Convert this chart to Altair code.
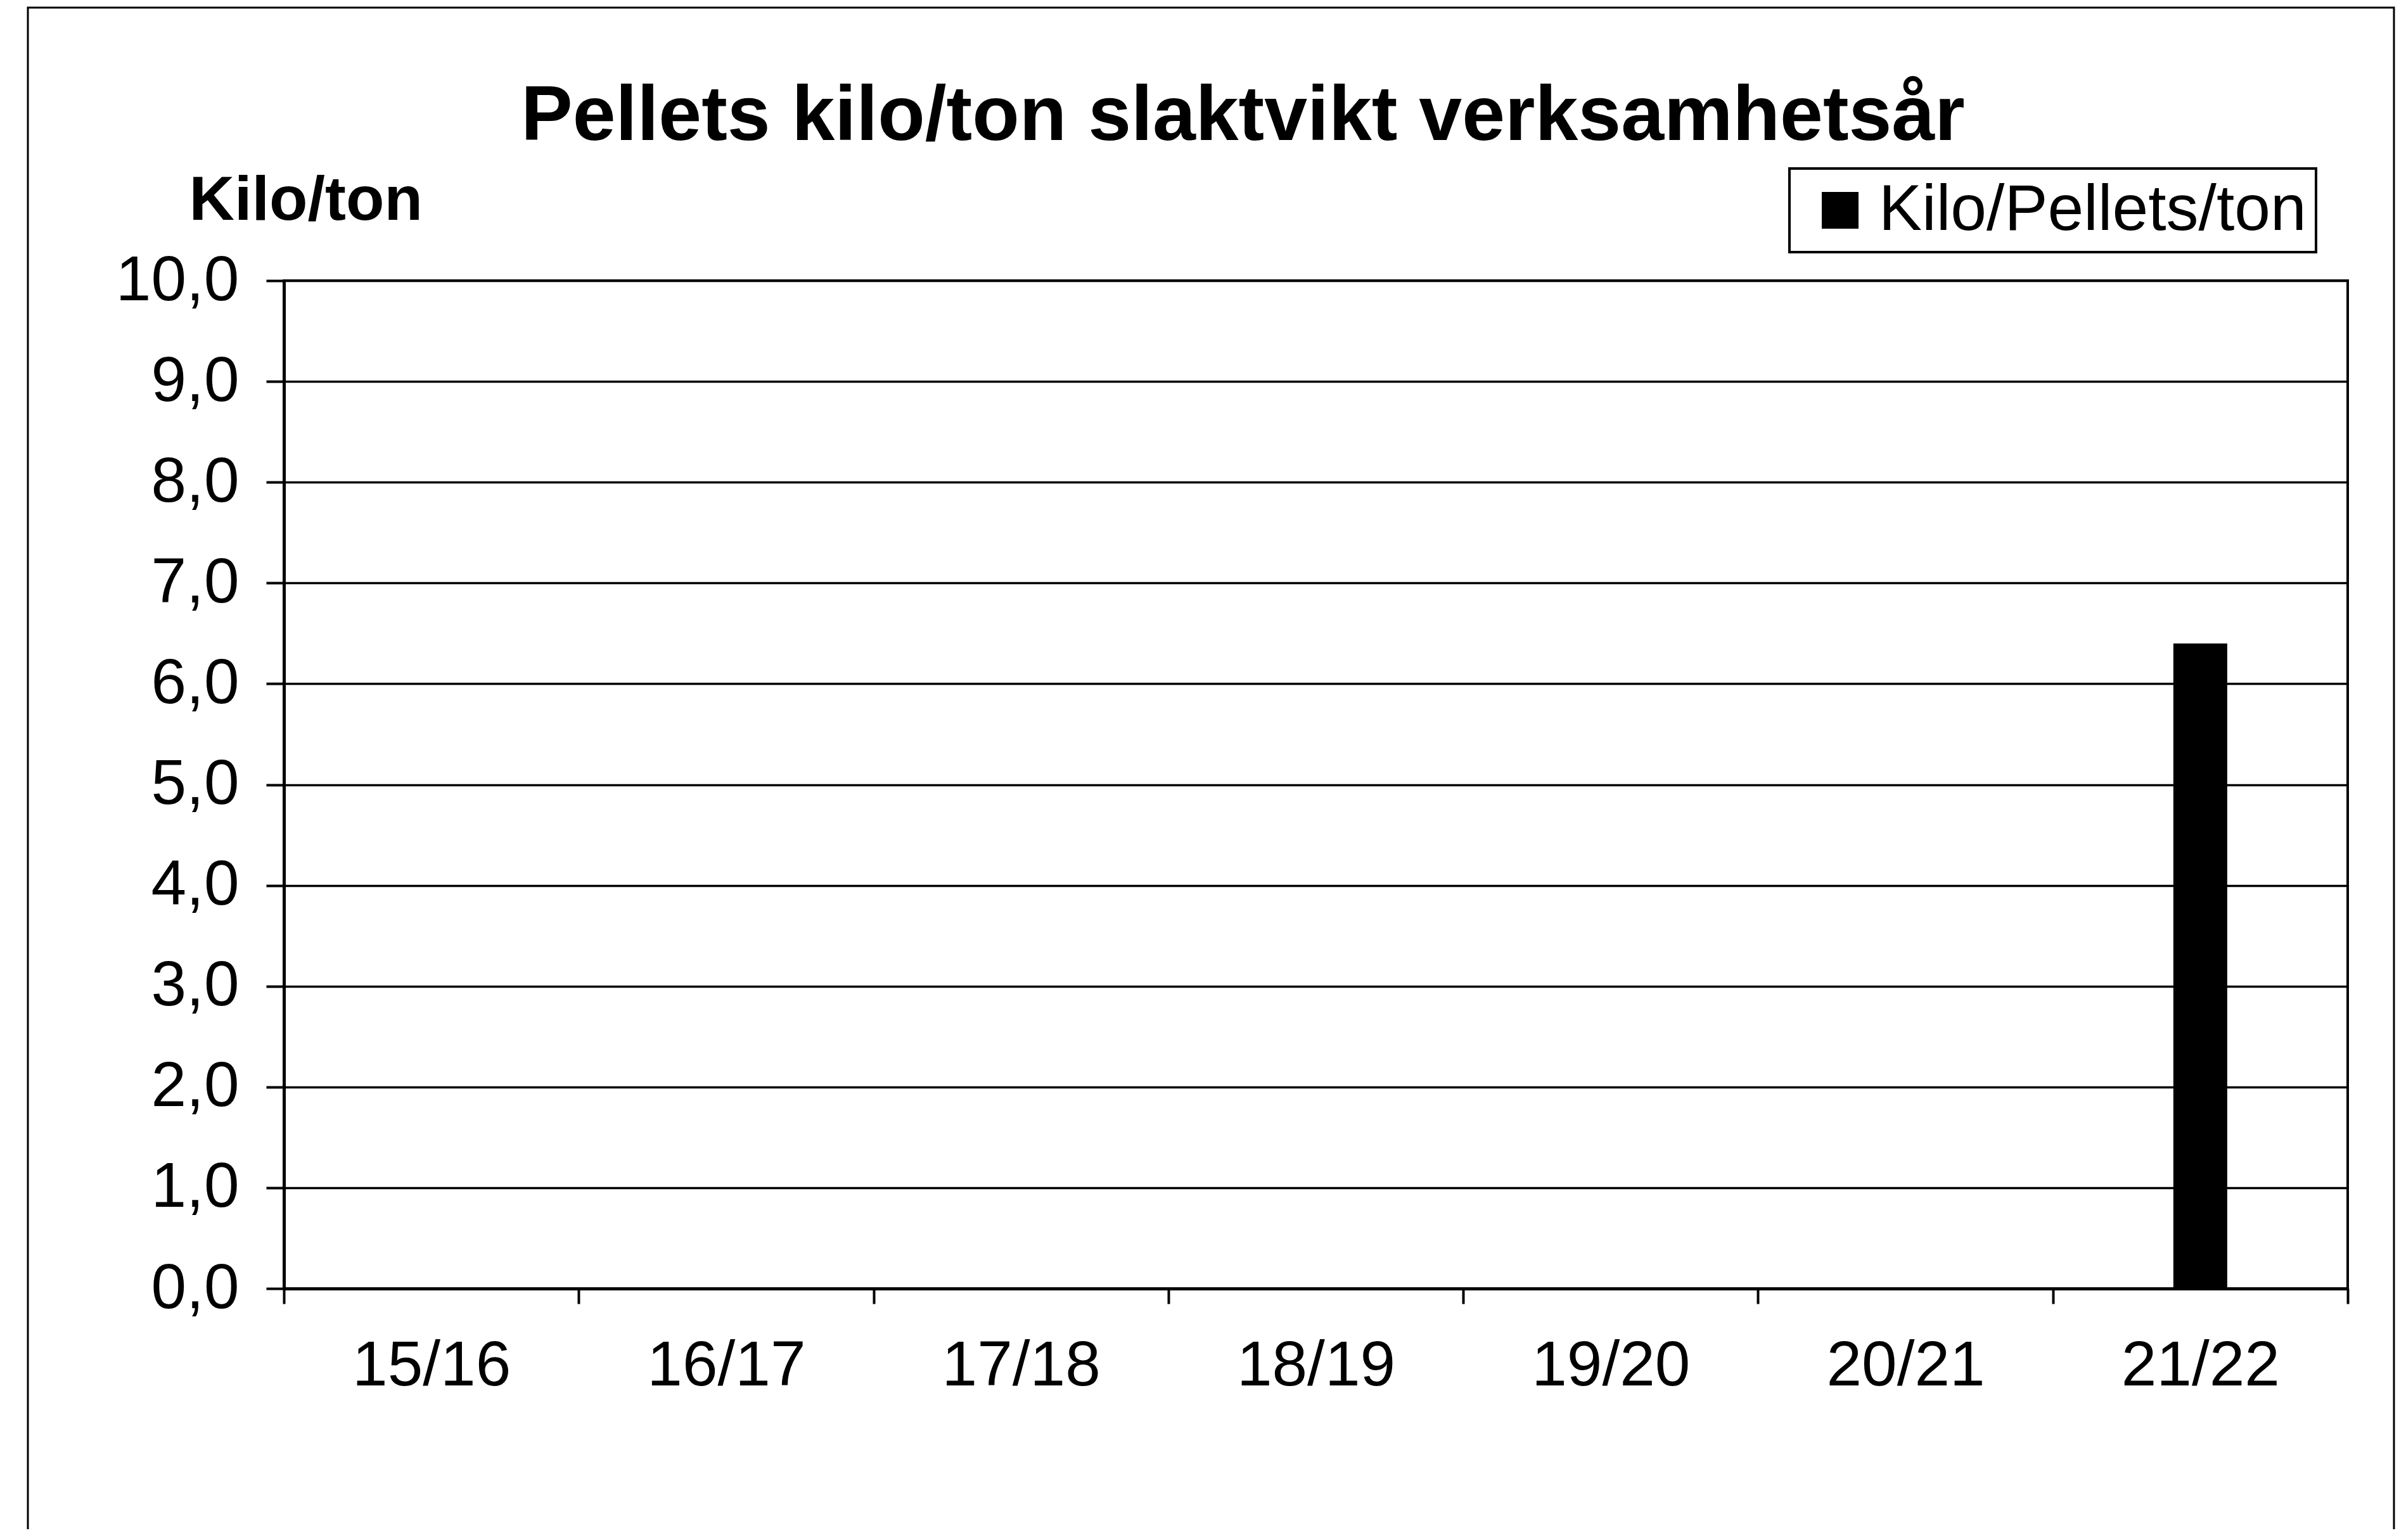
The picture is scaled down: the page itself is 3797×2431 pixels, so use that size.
import altair as alt
import pandas as pd

# ---- data ----
seasons = ["15/16", "16/17", "17/18", "18/19", "19/20", "20/21", "21/22"]
values = [None, None, None, None, None, None, 6.4]
series_name = "Kilo/Pellets/ton"
y_ticks = [0, 1, 2, 3, 4, 5, 6, 7, 8, 9, 10]

title_text = "Pellets kilo/ton slaktvikt verksamhetsår"
y_title = "Kilo/ton"

FONT = "Liberation Sans"

df = pd.DataFrame({"season": seasons, "value": values, "series": [series_name] * len(seasons)})
frame_df = pd.DataFrame({"k": [0]})

bars = alt.Chart(df).mark_bar(size=85, color="black").encode(
    x=alt.X(
        "season:N",
        sort=seasons,
        scale=alt.Scale(domain=seasons, paddingInner=0, paddingOuter=0),
        axis=alt.Axis(
            title=None, labelAngle=0, tickBand="extent", grid=False,
            domainColor="black", domainWidth=5,
            tickColor="black", tickSize=24, tickWidth=4,
            labelFont=FONT, labelFontSize=100, labelColor="black", labelPadding=49,
            labelLimit=2000,
        ),
    ),
    y=alt.Y(
        "value:Q",
        scale=alt.Scale(domain=[0, 10], nice=False),
        axis=alt.Axis(
            values=y_ticks, title=y_title,
            labelExpr="replace(format(datum.value, '.1f'), '.', ',')",
            grid=True, gridColor="black", gridWidth=3.5, gridOpacity=1,
            domainColor="black", domainWidth=5,
            tickColor="black", tickSize=28, tickWidth=4,
            labelFont=FONT, labelFontSize=100, labelColor="black", labelPadding=43,
            labelLimit=2000,
            titleAngle=0, titleX=-150, titleY=-97, titleAlign="left", titleBaseline="alphabetic",
            titleFont=FONT, titleFontSize=99, titleFontWeight="bold", titleColor="black",
            titleLimit=2000,
        ),
    ),
    color=alt.Color(
        "series:N",
        scale=alt.Scale(range=["black"]),
        legend=alt.Legend(
            title=None, orient="none", legendX=2376, legendY=-177,
            strokeColor="black", padding=15,
            symbolType="square", symbolSize=3364, symbolStrokeWidth=0,
            symbolOffset=14, labelOffset=10, labelLimit=3000,
            labelFont=FONT, labelFontSize=102, labelColor="black",
        ),
    ),
)

frame = alt.Chart(frame_df).mark_rect(filled=False, stroke="black", strokeWidth=3).encode(
    x=alt.value(-404), x2=alt.value(3330), y=alt.value(-431), y2=alt.value(2100)
)

chart = alt.layer(bars, frame).properties(
    width=3257,
    height=1591,
    padding={"left": 440, "top": 435, "right": 80, "bottom": 380},
    autosize=alt.AutoSizeParams(type="none"),
    background="white",
    title=alt.TitleParams(
        title_text, font=FONT, fontSize=122, fontWeight="bold", color="black",
        anchor="middle", dx=-115, dy=380, baseline="alphabetic", offset=48,
        limit=4000,
    ),
).configure_view(stroke="black", strokeWidth=4).configure_legend(strokeWidth=4)

chart.save("out.html", embed_options={"renderer": "svg", "actions": False})
